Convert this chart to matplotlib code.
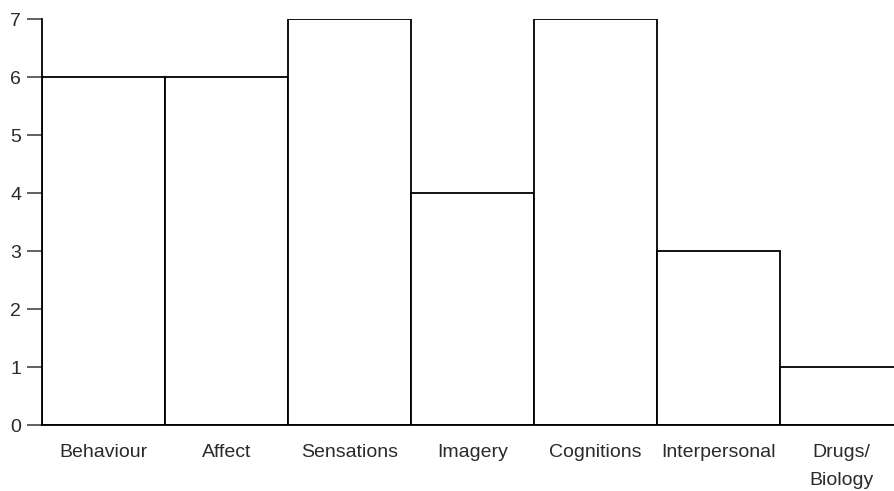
import matplotlib
matplotlib.use("Agg")
import matplotlib.pyplot as plt

categories = ["Behaviour", "Affect", "Sensations", "Imagery", "Cognitions", "Interpersonal", "Drugs/\nBiology"]
values = [6, 6, 7, 4, 7, 3, 1]
yticks = [0, 1, 2, 3, 4, 5, 6, 7]

plt.rcParams['font.family'] = ['Liberation Sans', 'DejaVu Sans']

fig = plt.figure(figsize=(8.94, 4.91), dpi=100)
ax = fig.add_axes([42/894, (491-425)/491, 1 - 42/894, (425-19)/491])

x = list(range(len(categories)))
ax.bar(x, values, width=1.0, facecolor='white', edgecolor='black', linewidth=1.3)
ax.set_xlim(-0.5, -0.5 + 852/123)
ax.set_ylim(0, 7)
ax.set_yticks(yticks)
ax.set_xticks(x)
ax.set_xticklabels(categories, fontsize=14, color='#2a2a2a', linespacing=1.8)
ax.tick_params(axis='x', length=0, pad=14)
ax.tick_params(axis='y', length=11, width=1.3, color='#555555', labelsize=14, labelcolor='#2a2a2a', pad=4)
for s in ['top', 'right']:
    ax.spines[s].set_visible(False)
ax.spines['left'].set_linewidth(1.3)
ax.spines['bottom'].set_linewidth(1.3)

fig.savefig("out.png", dpi=100)
